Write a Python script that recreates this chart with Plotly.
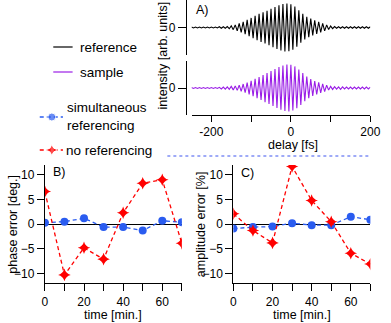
import plotly.graph_objs as go

W, H = 391, 323

# ---- data ----
delay_fs = list(range(-250, 201, 5))  # extrema of the fringes, every half cycle

# signed fringe extrema (normalised)
ref_peaks = [
    0.02, -0.02, 0.02, -0.02, 0.02, -0.02, 0.02, -0.02, 0.02, -0.02,
    0.02, -0.02, 0.02, -0.02, 0.03, -0.03, 0.03, -0.03,
    0.04, -0.05, 0.07, -0.09, 0.11, -0.14, 0.17, -0.20, 0.24, -0.28,
    0.32, -0.36, 0.40, -0.45, 0.49, -0.53, 0.57, -0.60, 0.64, -0.67,
    0.70, -0.74, 0.78, -0.82, 0.86, -0.90, 0.93, -0.96, 0.98, -1.00,
    1.00, -0.99, 0.97, -0.93, 0.88, -0.80, 0.72, -0.64, 0.57, -0.50,
    0.45, -0.41, 0.37, -0.33, 0.30, -0.27, 0.24, -0.20, 0.17, -0.14,
    0.11, -0.08, 0.06, -0.05, 0.04,
    -0.03, 0.03, -0.03, 0.03, -0.03, 0.03, -0.03, 0.03, -0.03, 0.03,
    -0.03, 0.03, -0.03, 0.03, -0.03, 0.03, -0.03, 0.03,
]
sample_peaks = [
    0.02, -0.02, 0.02, -0.02, 0.02, -0.02, 0.02, -0.02, 0.02, -0.02,
    0.02, -0.02, 0.02, -0.02, 0.03, -0.04, 0.04, -0.05,
    0.05, -0.06, 0.07, -0.08, 0.09, -0.10, 0.12, -0.14, 0.17, -0.20,
    0.23, -0.27, 0.31, -0.35, 0.39, -0.43, 0.47, -0.51, 0.55, -0.60,
    0.64, -0.68, 0.72, -0.77, 0.81, -0.85, 0.89, -0.93, 0.96, -0.98,
    1.00, -1.00, 0.99, -0.96, 0.92, -0.86, 0.79, -0.72, 0.64, -0.56,
    0.49, -0.43, 0.38, -0.34, 0.30, -0.27, 0.24, -0.21, 0.18, -0.15,
    0.12, -0.09, 0.07, -0.06, 0.06,
    -0.05, 0.05, -0.06, 0.05, -0.04, 0.04, -0.04, 0.04, -0.04, 0.04,
    -0.04, 0.04, -0.04, 0.04, -0.04, 0.04, -0.04, 0.04,
]

time_min = [0, 10, 20, 30, 40, 50, 60, 70]
phase_simult = [0.3, 0.5, 1.2, -0.6, -0.6, -1.3, 0.7, 0.4]
phase_noref = [6.6, -10.3, -4.8, -7.1, 2.3, 8.3, 9.0, -3.9]
amp_simult = [-0.9, -0.6, -0.5, 0.2, -0.2, -0.2, 1.5, 0.9]
amp_noref = [2.1, -1.3, -3.8, 11.7, 4.8, 0.5, -5.9, -8.1]

BLACK = "#000000"
PURPLE = "#9a1ee6"
BLUE = "#2a5cf0"
RED = "#ff0000"
FONT = "Liberation Sans"


def fx(px):
    return px / W


def fy(py):
    return 1 - py / H


fig = go.Figure()

# panel A
fig.add_trace(go.Scatter(x=delay_fs, y=ref_peaks, mode="lines",
                         line=dict(color=BLACK, width=1.1), xaxis="x", yaxis="y"))
fig.add_trace(go.Scatter(x=delay_fs, y=sample_peaks, mode="lines",
                         line=dict(color=PURPLE, width=1.1), xaxis="x2", yaxis="y2"))

# panels B and C
dash = "4px,3px"
for xa, ya, simult, noref in (("x3", "y3", phase_simult, phase_noref),
                              ("x4", "y4", amp_simult, amp_noref)):
    fig.add_trace(go.Scatter(x=time_min, y=simult, mode="lines+markers",
                             line=dict(color=BLUE, width=1.3, dash=dash),
                             marker=dict(color=BLUE, size=8, symbol="circle"),
                             xaxis=xa, yaxis=ya))
    fig.add_trace(go.Scatter(x=time_min, y=noref, mode="lines+markers",
                             line=dict(color=RED, width=1.3, dash=dash),
                             marker=dict(color=RED, size=9, symbol="star-diamond"),
                             xaxis=xa, yaxis=ya))

# legend samples on a hidden pixel-coordinate axis
fig.add_trace(go.Scatter(x=[52, 72], y=[47, 47], mode="lines",
                         line=dict(color=BLACK, width=1.2), xaxis="x5", yaxis="y5"))
fig.add_trace(go.Scatter(x=[52, 72], y=[72, 72], mode="lines",
                         line=dict(color=PURPLE, width=1.2), xaxis="x5", yaxis="y5"))
fig.add_trace(go.Scatter(x=[38, 50.5, 62], y=[117, 117, 117], mode="lines+markers",
                         line=dict(color=BLUE, width=1.3, dash=dash),
                         marker=dict(color=BLUE, size=[0, 8, 0]), xaxis="x5", yaxis="y5"))
fig.add_trace(go.Scatter(x=[38, 50.5, 62], y=[150, 150, 150], mode="lines+markers",
                         line=dict(color=RED, width=1.3, dash=dash),
                         marker=dict(color=RED, size=[0, 8, 0], symbol="star-diamond"),
                         xaxis="x5", yaxis="y5"))

ax = dict(showline=True, linecolor=BLACK, linewidth=1, ticks="outside",
          tickcolor=BLACK, tickwidth=1, showgrid=False, zeroline=False,
          tickfont=dict(family=FONT, size=12, color=BLACK), fixedrange=True)

fig.update_layout(
    width=W, height=H, margin=dict(l=0, r=0, t=0, b=0),
    paper_bgcolor="white", plot_bgcolor="rgba(0,0,0,0)",
    showlegend=False, font=dict(family=FONT, size=12, color=BLACK),
    xaxis=dict(domain=[fx(195), fx(380)], range=[-250, 200], visible=False, anchor="y"),
    yaxis=dict(ax, domain=[fy(55), fy(0)], range=[-1.15, 1.15], anchor="free",
               position=fx(189), tickvals=[0], ticklen=8),
    xaxis2=dict(ax, domain=[fx(195), fx(380)], range=[-250, 200], anchor="y2",
                tickvals=[-200, -100, 0, 100, 200], ticktext=["-200", "", "0", "", "200"],
                ticklen=6),
    yaxis2=dict(ax, domain=[fy(115), fy(61)], range=[-1.15, 1.15], anchor="free",
                position=fx(189), tickvals=[0], ticklen=8),
    xaxis3=dict(ax, domain=[fx(43.3), fx(185)], range=[0, 70], anchor="y3",
                tickvals=time_min, ticktext=["0", "", "20", "", "40", "", "60", ""], ticklen=7),
    yaxis3=dict(ax, domain=[fy(283.3), fy(165)], range=[-12, 12], anchor="x3",
                tickvals=[-10, -5, 0, 5, 10], ticklen=7,
                zeroline=True, zerolinecolor=BLACK, zerolinewidth=1.2),
    xaxis4=dict(ax, domain=[fx(238.3), fx(380)], range=[0, 70], anchor="y4",
                tickvals=time_min, ticktext=["0", "", "20", "", "40", "", "60", ""], ticklen=7),
    yaxis4=dict(ax, domain=[fy(283.3), fy(165)], range=[-12, 12], anchor="x4",
                tickvals=[-10, -5, 0, 5, 10], ticklen=7,
                zeroline=True, zerolinecolor=BLACK, zerolinewidth=1.2),
    xaxis5=dict(domain=[0, 1], range=[0, W], visible=False, anchor="y5"),
    yaxis5=dict(domain=[0, 1], range=[H, 0], visible=False, anchor="x5"),
)

# dotted separator
fig.add_shape(type="line", xref="paper", yref="paper", x0=fx(170), x1=fx(380),
              y0=fy(156), y1=fy(156), line=dict(color="#7f8ff5", width=1.3, dash="dot"))

texts = [
    ("A)", 206, 10, 0),
    ("B)", 58, 172, 0),
    ("C)", 253, 173, 0),
    ("delay [fs]", 300, 145, 0),
    ("time [min.]", 114, 315, 0),
    ("time [min.]", 309, 315, 0),
    ("intensity [arb. units]", 165, 56, -90),
    ("phase error [deg.]", 10, 224, -90),
    ("amplitude error [%]", 205, 224, -90),
]
for t, x, y, ang in texts:
    fig.add_annotation(text=t, x=fx(x), y=fy(y), xref="paper", yref="paper",
                       showarrow=False, textangle=ang, xanchor="center", yanchor="middle",
                       font=dict(family=FONT, size=12.5, color=BLACK))

legend_texts = [
    ("reference", 78, 47),
    ("sample", 78, 72),
    ("simultaneous<br>referencing", 64, 117),
    ("no referencing", 63, 150),
]
for t, x, y in legend_texts:
    fig.add_annotation(text=t, x=fx(x), y=fy(y), xref="paper", yref="paper",
                       showarrow=False, xanchor="left", yanchor="middle", align="left",
                       font=dict(family=FONT, size=13.5, color=BLACK))

fig.write_html("out.html", config={"displayModeBar": False},
               post_script="document.body.style.margin='0';document.body.style.padding='0';")
